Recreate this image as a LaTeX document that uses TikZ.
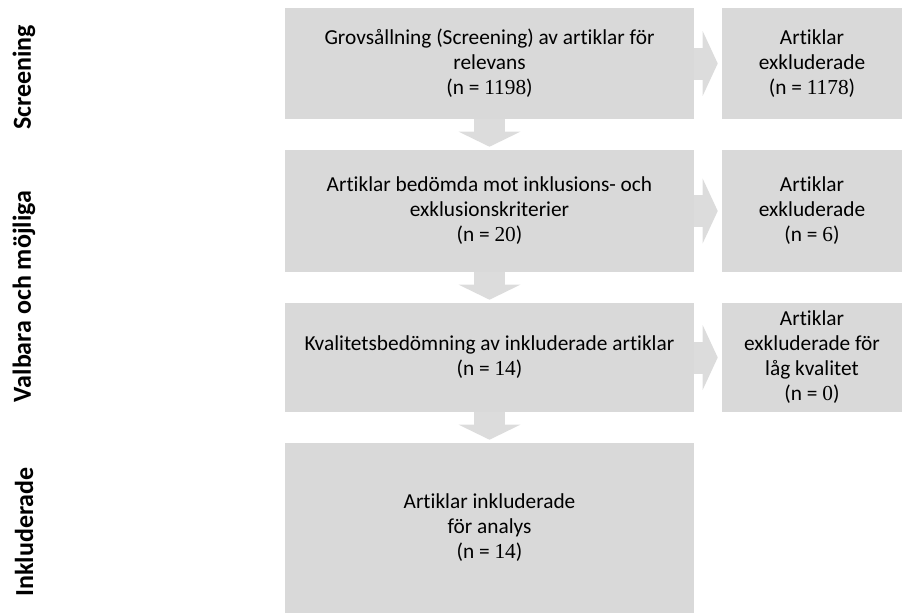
\documentclass[tikz,border=0pt]{standalone}
\usepackage{fontspec}
\setmainfont{Carlito}[Ligatures=NoCommon]
\newfontfamily\numfont{Liberation Serif}
\usetikzlibrary{arrows.meta}

\definecolor{boxgray}{HTML}{D9D9D9}
\definecolor{arrowgray}{HTML}{DCDCDC}
\newcommand{\nval}[1]{(n = {\numfont #1})}

\begin{document}
\begin{tikzpicture}[x=0.75pt,y=-0.75pt,
    stage/.style={fill=boxgray,inner sep=0pt,align=center,minimum width=306.75pt,font=\fontsize{16}{18.75}\selectfont},
    excl/.style={fill=boxgray,inner sep=0pt,align=center,minimum width=135pt,font=\fontsize{16}{18.75}\selectfont},
    phase/.style={rotate=90,inner sep=0pt,font=\bfseries\fontsize{19.5}{22}\selectfont},
    flow/.style={draw=arrowgray,line width=23.25pt,shorten >=2.25pt,-{Triangle[length=11.25pt,width=45.75pt,fill=arrowgray]}},
    side/.style={draw=arrowgray,line width=24pt,shorten >=3pt,-{Triangle[length=11.25pt,width=48pt,fill=arrowgray]}}]
    \useasboundingbox (0,0) rectangle (902,614);
    \node[stage,minimum height=83.25pt] (scr) at (489.5,63.5) {Grovsållning (Screening) av artiklar för\\relevans\\\nval{1198}};
    \node[stage,minimum height=91.5pt] (elig) at (489.5,211) {Artiklar bedömda mot inklusions- och\\exklusionskriterier\\\nval{20}};
    \node[stage,minimum height=81.75pt] (qual) at (489.5,357.5) {Kvalitetsbedömning av inkluderade artiklar\\\nval{14}};
    \node[stage,minimum height=127.5pt] (incl) at (489.5,528) {Artiklar inkluderade\\för analys\\\nval{14}};
    \node[excl,minimum height=83.25pt] (exscr) at (812,63.5) {Artiklar\\exkluderade\\\nval{1178}};
    \node[excl,minimum height=91.5pt] (exelig) at (812,211) {Artiklar\\exkluderade\\\nval{6}};
    \node[excl,minimum height=81.75pt] (exqual) at (812,357.5) {Artiklar\\exkluderade för\\låg kvalitet\\\nval{0}};
    \node[phase] (phscr) at (24,77.5) {Screening};
    \node[phase] (phelig) at (24,296.5) {Valbara och möjliga};
    \node[phase] (phincl) at (24,532) {Inkluderade};
    \draw[flow] (scr) -- (elig);
    \draw[flow] (elig) -- (qual);
    \draw[flow] (qual) -- (incl);
    \draw[side] (scr) -- (exscr);
    \draw[side] (elig) -- (exelig);
    \draw[side] (qual) -- (exqual);
\end{tikzpicture}
\end{document}
